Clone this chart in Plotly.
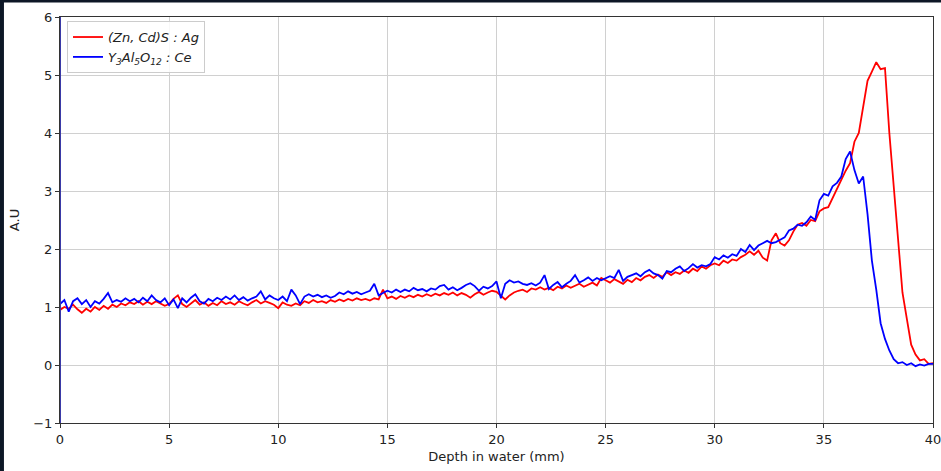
import plotly.graph_objects as go

depth = [round(0.2 * i, 1) for i in range(201)]

zncds_ag = [
    0.95, 1.0, 0.97, 1.04, 0.96, 0.9, 0.97, 0.92, 1.0, 0.95,
    1.02, 0.97, 1.04, 1.0, 1.06, 1.03, 1.08, 1.05, 1.1, 1.04,
    1.09, 1.05, 1.1, 1.06, 1.02, 1.05, 1.14, 1.2, 1.05, 1.0,
    1.06, 1.12, 1.04, 1.08, 1.02, 1.07, 1.03, 1.1, 1.05, 1.08,
    1.04, 1.1, 1.06, 1.03, 1.08, 1.12, 1.06, 1.1, 1.07, 1.04,
    0.98, 1.08, 1.04, 1.02, 1.06, 1.03, 1.1, 1.07, 1.12, 1.08,
    1.1, 1.07, 1.12, 1.09, 1.13, 1.1, 1.14, 1.11, 1.15, 1.12,
    1.14, 1.11, 1.15, 1.13, 1.3, 1.15, 1.18, 1.14, 1.19, 1.16,
    1.2, 1.17, 1.21, 1.18, 1.22, 1.19, 1.23, 1.2, 1.24, 1.21,
    1.25, 1.2, 1.24, 1.21, 1.16, 1.22, 1.26, 1.21, 1.25, 1.28,
    1.26, 1.2, 1.13, 1.2, 1.25, 1.28, 1.3, 1.26, 1.32, 1.3,
    1.34, 1.3, 1.33, 1.29, 1.35, 1.32, 1.37, 1.33, 1.36, 1.4,
    1.35, 1.38, 1.42, 1.37, 1.5, 1.46, 1.42, 1.48, 1.44, 1.4,
    1.47, 1.43, 1.5, 1.46, 1.52, 1.55, 1.5, 1.56, 1.52, 1.6,
    1.55, 1.6, 1.57, 1.63, 1.59, 1.66, 1.62, 1.7, 1.66, 1.72,
    1.75, 1.72, 1.8, 1.76, 1.82, 1.8, 1.86, 1.9, 1.96, 1.9,
    1.97, 1.85, 1.8, 2.15, 2.27, 2.1, 2.06, 2.15, 2.3, 2.42,
    2.45, 2.4, 2.5, 2.48, 2.65, 2.7, 2.72, 2.88, 3.05, 3.2,
    3.35, 3.48, 3.85, 4.0, 4.45, 4.9, 5.06, 5.22, 5.1, 5.12,
    4.0, 3.07, 2.05, 1.25, 0.8, 0.35, 0.18, 0.08, 0.1, 0.02, 0.03,
]

yag_ce = [
    1.05, 1.12, 0.92, 1.1, 1.15, 1.05, 1.12, 1.0, 1.1, 1.06,
    1.14, 1.24, 1.08, 1.12, 1.09, 1.15, 1.1, 1.14, 1.08, 1.16,
    1.1, 1.2, 1.12, 1.08, 1.15, 1.03, 1.13, 0.98, 1.15, 1.08,
    1.16, 1.22, 1.1, 1.06, 1.14, 1.1, 1.16, 1.12, 1.18, 1.13,
    1.2, 1.12, 1.17, 1.11, 1.15, 1.18, 1.27, 1.13, 1.2, 1.15,
    1.12, 1.18, 1.1, 1.3, 1.2, 1.05, 1.18, 1.22, 1.18, 1.21,
    1.17, 1.2, 1.16, 1.19, 1.25, 1.22, 1.27, 1.23, 1.26, 1.22,
    1.25, 1.28, 1.4, 1.2, 1.24, 1.28, 1.25, 1.3, 1.26, 1.3,
    1.27, 1.33, 1.29, 1.31, 1.27, 1.32, 1.3, 1.36, 1.38, 1.3,
    1.34, 1.29, 1.33, 1.38, 1.41, 1.36, 1.28, 1.35, 1.32, 1.36,
    1.44, 1.15, 1.4, 1.46, 1.42, 1.44, 1.4, 1.38, 1.41, 1.37,
    1.42, 1.55, 1.31, 1.38, 1.43, 1.34, 1.4, 1.45, 1.55, 1.42,
    1.46, 1.51, 1.45, 1.5, 1.46, 1.49, 1.53, 1.5, 1.64, 1.45,
    1.52, 1.55, 1.58, 1.53, 1.6, 1.64, 1.58, 1.55, 1.49, 1.62,
    1.6, 1.66, 1.7, 1.62, 1.67, 1.74, 1.68, 1.72, 1.7, 1.74,
    1.86, 1.82, 1.89, 1.85, 1.91, 1.88, 2.0, 1.95, 2.07, 1.98,
    2.06, 2.1, 2.14, 2.1, 2.12, 2.16, 2.2, 2.32, 2.35, 2.42,
    2.4, 2.46, 2.56, 2.5, 2.84, 2.95, 2.92, 3.08, 3.14, 3.25,
    3.55, 3.68, 3.36, 3.13, 3.25, 2.6, 1.8, 1.3, 0.72, 0.45,
    0.25, 0.1, 0.03, 0.05, 0.0, 0.03, -0.02, 0.01, -0.01, 0.02, 0.02,
]

x_ticks = [0, 5, 10, 15, 20, 25, 30, 35, 40]
y_ticks = [-1, 0, 1, 2, 3, 4, 5, 6]

FONT = "DejaVu Sans"
TXT = "#222222"
FRAME = "#0d1726"

fig = go.Figure()
fig.add_trace(go.Scatter(
    x=depth, y=zncds_ag, mode="lines",
    name="<i>(Zn, Cd)S : Ag</i>",
    line=dict(color="#ff0000", width=1.8),
))
fig.add_trace(go.Scatter(
    x=depth, y=yag_ce, mode="lines",
    name="<i>Y<sub>3</sub>Al<sub>5</sub>O<sub>12</sub> : Ce</i>",
    line=dict(color="#0000ff", width=1.8),
))

axis_common = dict(
    showgrid=True, gridcolor="#d0d0d0", gridwidth=1,
    showline=True, linecolor="#333333", linewidth=1, mirror=True,
    ticks="outside", ticklen=4, tickcolor="#333333", tickwidth=1,
    zeroline=False, ticklabeloverflow="allow", automargin=False,
    tickfont=dict(family=FONT, size=13, color=TXT),
)

fig.update_layout(
    width=941, height=471,
    margin=dict(l=60, r=8, t=17, b=48),
    paper_bgcolor="white", plot_bgcolor="white",
    font=dict(family=FONT, size=13, color=TXT),
    xaxis=dict(range=[0, 40], tickvals=x_ticks,
               title=dict(text="Depth in water (mm)", standoff=6,
                          font=dict(family=FONT, size=13, color=TXT)),
               **axis_common),
    yaxis=dict(range=[-1, 6], tickvals=y_ticks,
               title=dict(text="A.U", standoff=10,
                          font=dict(family=FONT, size=13, color=TXT)),
               **axis_common),
    legend=dict(
        x=0.008, y=0.99, xanchor="left", yanchor="top",
        bgcolor="rgba(255,255,255,0.85)", bordercolor="#cccccc", borderwidth=1,
        font=dict(family=FONT, size=13, color=TXT),
        itemwidth=30, tracegroupgap=0,
    ),
    showlegend=True,
    shapes=[
        dict(type="line", xref="x", yref="paper", x0=0, x1=0, y0=0, y1=1,
             line=dict(color="#3a3aa8", width=2), layer="above"),
        dict(type="rect", xref="paper", yref="paper",
             x0=-0.0688, x1=-0.0642, y0=-0.12, y1=1.043,
             fillcolor=FRAME, line=dict(width=0), layer="above"),
        dict(type="rect", xref="paper", yref="paper",
             x0=-0.0688, x1=1.0092, y0=1.0355, y1=1.043,
             fillcolor=FRAME, line=dict(width=0), layer="above"),
    ],
)

fig.write_html("out.html")
